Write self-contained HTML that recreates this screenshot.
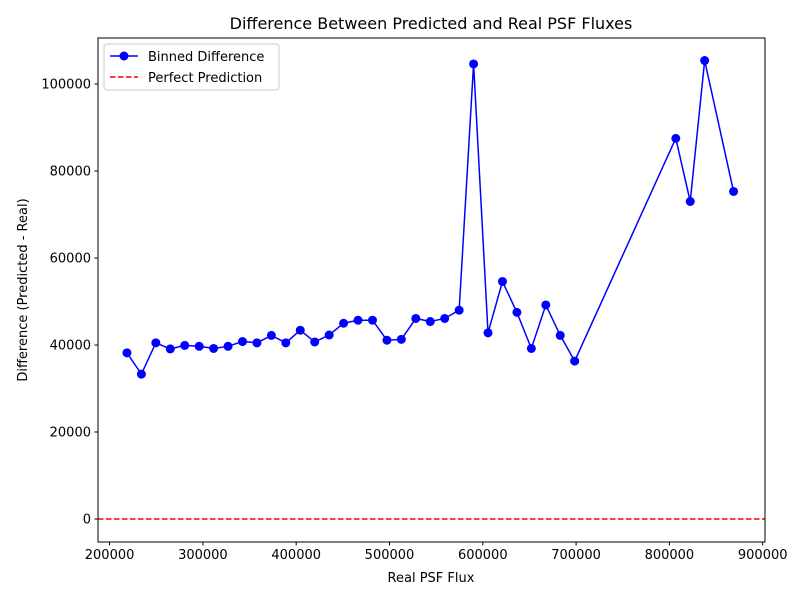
<!DOCTYPE html>
<html><head><meta charset="utf-8"><style>
body{margin:0;background:#fff;font-family:"Liberation Sans","DejaVu Sans",sans-serif}
</style></head><body>
<svg id="chart" width="800" height="600" xmlns="http://www.w3.org/2000/svg" font-family="DejaVu Sans, Liberation Sans, sans-serif">
<rect width="800" height="600" fill="#fff"/>
<text x="431" y="29" text-anchor="middle" font-size="16">Difference Between Predicted and Real PSF Fluxes</text>
<text x="431" y="582" text-anchor="middle" font-size="13">Real PSF Flux</text>
<text transform="translate(27,290) rotate(-90)" text-anchor="middle" font-size="13">Difference (Predicted - Real)</text>
<g id="axes"></g>
<line id="zero" stroke="red" stroke-width="1.5" stroke-dasharray="5.5,2.5"/>
<g id="series"></g>
<rect x="98" y="38" width="667" height="504" fill="none" stroke="#000" stroke-width="1"/>
<g>
<rect x="104" y="44" width="175" height="46" rx="3" fill="#fff" fill-opacity="0.8" stroke="#ccc"/>
<g>
<line x1="110" y1="56" x2="138" y2="56" stroke="blue" stroke-width="1.5"/><circle cx="124" cy="56" r="4.5" fill="blue"/>
<text x="148" y="61" font-size="13">Binned Difference</text></g>
<g>
<line x1="110" y1="77" x2="138" y2="77" stroke="red" stroke-width="1.5" stroke-dasharray="5.5,2.5"/>
<text x="148" y="82" font-size="13">Perfect Prediction</text></g>
</g>
</svg>
<script>
const xValues=[218600,234080,249560,265040,280520,296000,311480,326960,342440,357920,373400,388880,404360,419840,435320,450800,466280,481760,497240,512720,528200,543680,559160,574640,590120,605600,621080,636560,652040,667520,683000,698480,806840,822320,837800,868760];
const yValues=[38200,33300,40500,39100,39900,39700,39200,39700,40800,40500,42200,40500,43400,40700,42300,45000,45700,45700,41100,41300,46100,45400,46100,48000,104600,42800,54600,47500,39200,49200,42200,36300,87500,73000,105400,75300];
const xTicks=[200000,300000,400000,500000,600000,700000,800000,900000];
const yTicks=[0,20000,40000,60000,80000,100000];
const NS='http://www.w3.org/2000/svg';
function sx(v){return 109.6+(v-200000)*0.000933;}
function sy(v){return 519-v*0.00435;}
const axes=document.getElementById('axes');
function mk(tag,attrs,parent){const e=document.createElementNS(NS,tag);for(const k in attrs)e.setAttribute(k,attrs[k]);parent.appendChild(e);return e;}
xTicks.forEach(t=>{
 const g=mk('g',{},axes);
 
 
 mk('line',{x1:sx(t),x2:sx(t),y1:542,y2:545.5,stroke:'#000'},g);
 const tx=mk('text',{x:sx(t),y:559,'text-anchor':'middle','font-size':'13'},g);tx.textContent=t;
});
yTicks.forEach(t=>{
 const g=mk('g',{},axes);
 
 
 mk('line',{x1:94.5,x2:98,y1:sy(t),y2:sy(t),stroke:'#000'},g);
 const tx=mk('text',{x:91,y:sy(t)+4.5,'text-anchor':'end','font-size':'13'},g);tx.textContent=t;
});
const z=document.getElementById('zero');
z.setAttribute('x1',98);z.setAttribute('x2',765);z.setAttribute('y1',sy(0));z.setAttribute('y2',sy(0));
const s=document.getElementById('series');
const pts=xValues.map((x,i)=>sx(x)+','+sy(yValues[i])).join(' ');
const pl=mk('polyline',{points:pts,fill:'none',stroke:'blue','stroke-width':1.5},s);


xValues.forEach((x,i)=>{
 const c=mk('circle',{cx:sx(x),cy:sy(yValues[i]),r:4.5,fill:'blue'},s);
 
 
});
</script>
</body></html>
